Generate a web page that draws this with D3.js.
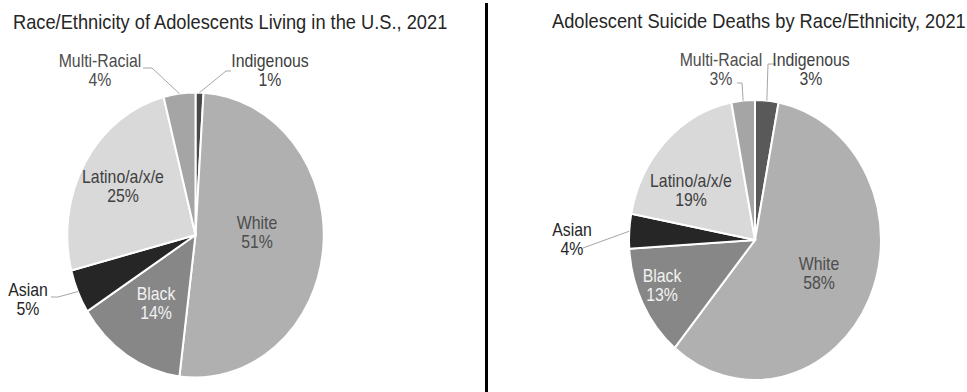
<!DOCTYPE html>
<html>
<head>
<meta charset="utf-8">
<script src="https://cdn.jsdelivr.net/npm/d3@7"></script>
<style>
  html, body { margin: 0; padding: 0; background: #fff; }
  svg { display: block; font-family: "Liberation Sans", Arial, sans-serif; }
</style>
</head>
<body>
<svg id="chart" width="967" height="392"></svg>
<script>
// Slice order runs clockwise from 12 o'clock.
const categories = ["Indigenous", "White", "Black", "Asian", "Latino/a/x/e", "Multi-Racial"];
const populationShare = [1, 51, 14, 5, 25, 4];
const suicideShare = [3, 58, 13, 4, 19, 3];
const chartTitles = [
  "Race/Ethnicity of Adolescents Living in the U.S., 2021",
  "Adolescent Suicide Deaths by Race/Ethnicity, 2021"
];

// Grey palette per category
const fillsLeft  = ["#4a4a4a", "#b0b0b0", "#878787", "#262626", "#d9d9d9", "#a5a5a5"];
const fillsRight = ["#595959", "#b0b0b0", "#878787", "#262626", "#d9d9d9", "#a5a5a5"];
const labelColors = ["#404040", "#4d4d4d", "#f2f2f2", "#262626", "#404040", "#4d4d4d"];

const SX = 0.9;        // horizontal squeeze of the whole figure
const FONT = 17.6;
const TITLE_FONT = 20.3;
const LINE = 19.5;

const svg = d3.select("#chart");

// Layout of each panel (screen px). Label entries: centre x, first baseline,
// optional leader start points.
const panels = [
  {
    values: populationShare, fills: fillsLeft, title: chartTitles[0],
    titleX: 13, titleY: 29,
    cx: 195.5, cy: 235, r: 142.5,
    labels: [
      { x: 270, y: 67, leader: [[231, 71], [226, 71]] },
      { x: 257, y: 229 },
      { x: 156, y: 300 },
      { x: 28, y: 296, leader: [[51, 297], [58, 297]] },
      { x: 123, y: 183 },
      { x: 100, y: 67, leader: [[143, 68], [152, 68]] }
    ]
  },
  {
    values: suicideShare, fills: fillsRight, title: chartTitles[1],
    titleX: 552, titleY: 28,
    cx: 755, cy: 240, r: 140,
    labels: [
      { x: 811, y: 66, leader: [[776, 64], [768, 64]] },
      { x: 819, y: 270 },
      { x: 662, y: 282 },
      { x: 572, y: 236, leader: [[583, 248]] },
      { x: 691, y: 187 },
      { x: 721, y: 66, leader: [[737, 83], [742, 83]] }
    ]
  }
];

const pie = d3.pie().sort(null).value(d => d);

panels.forEach(p => {
  const arcs = pie(p.values);
  const arc = d3.arc().innerRadius(0).outerRadius(p.r);
  const edge = d3.arc().innerRadius(p.r).outerRadius(p.r);

  // Slices
  const g = svg.append("g")
    .attr("transform", `translate(${p.cx},${p.cy}) scale(${SX},1)`);
  g.selectAll("path")
    .data(arcs)
    .join("path")
    .attr("d", arc)
    .attr("fill", (d, i) => p.fills[i])
    .attr("stroke", "#ffffff")
    .attr("stroke-width", 2)
    .attr("vector-effect", "non-scaling-stroke");

  // Leader lines from outside labels to slice edges
  arcs.forEach((a, i) => {
    const lab = p.labels[i];
    if (!lab.leader) return;
    const mid = (a.startAngle + a.endAngle) / 2;
    const e = edge.centroid({ startAngle: mid, endAngle: mid });
    const pts = lab.leader.concat([[p.cx + e[0] * SX, p.cy + e[1]]]);
    svg.append("path")
      .attr("d", d3.line()(pts))
      .attr("fill", "none")
      .attr("stroke", "#a6a6a6")
      .attr("stroke-width", 1);
  });

  // Texts, squeezed like the pies
  const t = svg.append("g").attr("transform", `scale(${SX},1)`);
  t.append("text")
    .attr("x", p.titleX / SX)
    .attr("y", p.titleY)
    .attr("font-size", TITLE_FONT)
    .attr("fill", "#262626")
    .text(p.title);

  arcs.forEach((a, i) => {
    const lab = p.labels[i];
    const txt = t.append("text")
      .attr("text-anchor", "middle")
      .attr("font-size", FONT)
      .attr("fill", labelColors[i]);
    txt.append("tspan").attr("x", lab.x / SX).attr("y", lab.y).text(categories[i]);
    txt.append("tspan").attr("x", lab.x / SX).attr("y", lab.y + LINE)
      .text(a.data + "%");
  });
});

// Vertical divider between the panels
svg.append("line")
  .attr("x1", 486.5).attr("x2", 486.5)
  .attr("y1", 3).attr("y2", 392)
  .attr("stroke", "#000")
  .attr("stroke-width", 3);
</script>
</body>
</html>
